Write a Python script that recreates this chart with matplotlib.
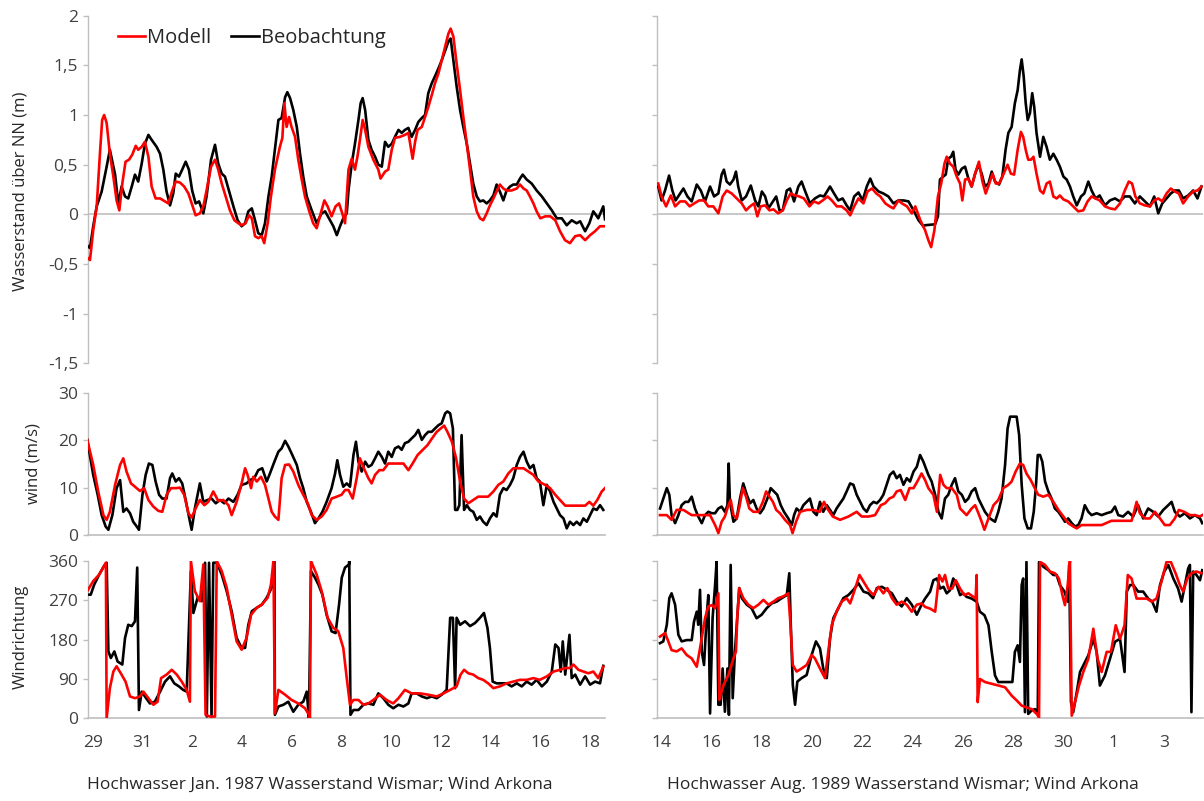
import matplotlib
matplotlib.use("Agg")
import matplotlib.pyplot as plt

plt.rcParams['font.family'] = ['Open Sans', 'DejaVu Sans']

# ---------------- data (x = days since first tick label) ----------------
# Jan 1987, water level (m)
jan_wl_obs_t = [-0.25, -0.12, 0.01, 0.15, 0.35, 0.55, 0.68, 0.89, 1.02, 1.15, 1.29, 1.42, 1.56, 1.69, 1.82, 1.96,
                2.09, 2.23, 2.36, 2.56, 2.70, 2.83, 2.96, 3.10, 3.23, 3.33, 3.46, 3.59, 3.73, 3.86, 3.99, 4.13,
                4.27, 4.44, 4.57, 4.75, 4.91, 5.04, 5.18, 5.31, 5.47, 5.65, 5.82, 5.98, 6.12, 6.25, 6.39, 6.52,
                6.65, 6.79, 6.92, 7.06, 7.19, 7.32, 7.46, 7.59, 7.73, 7.82, 7.93, 8.06, 8.20, 8.33, 8.46, 8.60,
                8.80, 9.00, 9.20, 9.34, 9.54, 9.67, 9.81, 9.94, 10.07, 10.21,
                10.28, 10.41, 10.54, 10.68, 10.77, 10.85, 10.95, 11.08, 11.21, 11.35, 11.48, 11.62, 11.75, 11.88,
                12.02, 12.15, 12.29, 12.42, 12.55, 12.69, 12.82, 12.96, 13.09, 13.23, 13.36, 13.49, 13.63, 13.76,
                13.90, 14.03, 14.17, 14.30, 14.39, 14.50, 14.63, 14.77, 14.90, 15.04, 15.17, 15.30, 15.44, 15.57,
                15.70, 15.84, 15.97, 16.11, 16.24, 16.37, 16.51, 16.64, 16.78, 16.91, 17.05, 17.18, 17.29, 17.45,
                17.65, 17.85, 18.06, 18.26, 18.46, 18.66, 18.86, 19.06, 19.26, 19.46, 19.60, 19.80, 19.97, 20.13,
                20.33, 20.53, 20.60]
jan_wl_obs = [-0.31, -0.34, -0.12, 0.08, 0.23, 0.48, 0.65, 0.40, 0.10, 0.28, 0.18, 0.16, 0.28, 0.40, 0.33, 0.51,
              0.71, 0.80, 0.75, 0.68, 0.61, 0.45, 0.23, 0.09, 0.21, 0.41, 0.38, 0.45, 0.53, 0.45, 0.24, 0.11,
              0.13, 0.01, 0.18, 0.55, 0.70, 0.51, 0.41, 0.38, 0.24, 0.08, -0.06, -0.12, -0.09, 0.03, 0.06, -0.06,
              -0.19, -0.21, -0.09, 0.18, 0.38, 0.65, 0.95, 0.97, 1.18, 1.23, 1.17, 1.05, 0.88, 0.61, 0.38, 0.18,
              0.04, -0.09, 0.01, 0.03, -0.06, -0.12, -0.21, -0.12, -0.04, 0.01,
              0.24, 0.51, 0.71, 0.95, 1.12, 1.17, 1.05, 0.75, 0.65, 0.58, 0.50, 0.48, 0.73, 0.68,
              0.71, 0.78, 0.85, 0.82, 0.85, 0.87, 0.78, 0.85, 0.93, 0.97, 1.00, 1.22, 1.32, 1.39,
              1.47, 1.55, 1.65, 1.74, 1.77, 1.55, 1.29, 1.05, 0.88, 0.71, 0.51, 0.31, 0.18, 0.13,
              0.14, 0.11, 0.14, 0.19, 0.30, 0.23, 0.14, 0.24, 0.28, 0.30, 0.30, 0.36, 0.40, 0.35,
              0.31, 0.24, 0.18, 0.11, 0.04, -0.04, -0.04, -0.11, -0.06, -0.09, -0.07, -0.17, -0.09, 0.03,
              -0.04, 0.08, -0.05]
jan_wl_mod_t = [-0.25, -0.12, 0.01, 0.15, 0.28, 0.37, 0.45, 0.55, 0.68, 0.82, 0.95, 1.06, 1.18, 1.31, 1.45, 1.58,
                1.72, 1.82, 1.96, 2.09, 2.23, 2.36, 2.52, 2.70, 2.90, 3.03, 3.19, 3.33, 3.50, 3.67, 3.84, 3.97,
                4.13, 4.30, 4.44, 4.57, 4.75, 4.91, 5.04, 5.18, 5.34, 5.51, 5.69, 5.85, 5.98, 6.14, 6.28, 6.39,
                6.52, 6.65, 6.79, 6.89, 7.03, 7.16, 7.32, 7.52, 7.62, 7.70, 7.79, 7.89, 7.99, 8.13, 8.26, 8.40,
                8.53, 8.69, 8.86, 9.00, 9.13, 9.31, 9.44, 9.60, 9.76, 9.90, 10.03, 10.14,
                10.28, 10.41, 10.54, 10.64, 10.74, 10.85, 10.95, 11.08, 11.28, 11.48, 11.57, 11.75, 11.88, 12.02,
                12.15, 12.35, 12.55, 12.69, 12.78, 12.86, 12.96, 13.06, 13.23, 13.36, 13.49, 13.63, 13.76, 13.90,
                14.03, 14.17, 14.30, 14.39, 14.50, 14.63, 14.77, 14.90, 15.04, 15.17, 15.30, 15.44, 15.57, 15.70,
                15.84, 15.97, 16.11, 16.24, 16.37, 16.51, 16.64, 16.84, 17.05, 17.18, 17.32, 17.45, 17.58, 17.72,
                17.85, 18.00, 18.20, 18.40, 18.60, 18.79, 18.99, 19.19, 19.40, 19.60, 19.80, 20.00, 20.20, 20.40,
                20.60]
jan_wl_mod = [-0.43, -0.46, -0.16, 0.08, 0.61, 0.95, 1.00, 0.92, 0.61, 0.38, 0.14, 0.04, 0.31, 0.53, 0.55, 0.60,
              0.69, 0.65, 0.68, 0.73, 0.58, 0.28, 0.16, 0.16, 0.13, 0.11, 0.24, 0.33, 0.32, 0.28, 0.21, 0.11,
              -0.01, 0.01, 0.08, 0.24, 0.48, 0.55, 0.45, 0.31, 0.18, 0.04, -0.06, -0.09, -0.11, -0.09, -0.01, -0.04,
              -0.22, -0.24, -0.22, -0.29, -0.09, 0.18, 0.45, 0.68, 0.77, 1.12, 0.88, 0.98, 0.88, 0.78, 0.55, 0.35,
              0.18, 0.04, -0.09, -0.14, -0.02, 0.14, 0.08, -0.02, 0.08, 0.11, 0.01, -0.09,
              0.45, 0.56, 0.45, 0.58, 0.75, 0.95, 0.85, 0.68, 0.55, 0.45, 0.36, 0.43, 0.45, 0.65,
              0.77, 0.78, 0.80, 0.82, 0.68, 0.56, 0.73, 0.85, 0.88, 0.98, 1.08, 1.20, 1.32, 1.42,
              1.55, 1.69, 1.82, 1.87, 1.79, 1.52, 1.25, 0.98, 0.71, 0.45, 0.18, 0.03, -0.04, -0.06,
              0.01, 0.09, 0.16, 0.23, 0.30, 0.26, 0.24, 0.24, 0.26, 0.30, 0.26, 0.24, 0.18, 0.11,
              0.03, -0.04, -0.02, -0.02, -0.06, -0.17, -0.26, -0.29, -0.22, -0.21, -0.26, -0.21, -0.17, -0.12,
              -0.12]

# Aug 1989, water level (m)
aug_wl_obs_t = [-0.11, 0.02, 0.16, 0.32, 0.45, 0.58, 0.76, 0.89, 1.05, 1.22, 1.42, 1.58, 1.75, 1.95, 2.11, 2.28,
                2.41, 2.50, 2.61, 2.74, 2.88, 2.98, 3.07, 3.21, 3.38, 3.57, 3.74, 3.87, 4.01, 4.14, 4.27, 4.40,
                4.58, 4.71, 4.84, 5.00, 5.13, 5.29, 5.46, 5.59, 5.72, 5.92, 6.12, 6.32, 6.48, 6.72, 6.88, 7.05,
                7.22, 7.38, 7.52, 7.68, 7.85, 8.02, 8.18, 8.32, 8.45, 8.65, 8.84, 9.04, 9.24, 9.44, 9.64, 9.84,
                10.04, 10.24, 10.43,
                10.50, 10.90, 11.01, 11.09, 11.22, 11.32, 11.42, 11.53, 11.62, 11.71, 11.82, 11.96, 12.09, 12.22,
                12.35, 12.49, 12.62, 12.75, 12.88, 13.02, 13.15, 13.28, 13.44, 13.57, 13.70, 13.81, 13.94, 14.07,
                14.18, 14.27, 14.34, 14.42, 14.50, 14.58, 14.67, 14.76, 14.84, 14.93, 15.07, 15.20, 15.33, 15.46,
                15.60, 15.73, 15.86, 16.00, 16.13, 16.26, 16.39, 16.53, 16.70, 16.83, 16.99, 17.12, 17.28, 17.44,
                17.65, 17.85, 18.05, 18.25, 18.44, 18.64, 18.84, 19.04, 19.24, 19.44, 19.61, 19.77, 19.93, 20.10,
                20.27, 20.43, 20.59, 20.76, 20.96, 21.16, 21.33, 21.49]
aug_wl_obs = [0.28, 0.14, 0.24, 0.39, 0.24, 0.14, 0.21, 0.26, 0.18, 0.13, 0.30, 0.24, 0.13, 0.28, 0.18, 0.21,
              0.40, 0.45, 0.33, 0.30, 0.35, 0.43, 0.28, 0.14, 0.18, 0.29, 0.14, 0.08, 0.23, 0.18, 0.06, 0.11,
              0.18, 0.04, 0.04, 0.24, 0.26, 0.13, 0.28, 0.33, 0.24, 0.11, 0.16, 0.19, 0.18, 0.28, 0.21, 0.14,
              0.16, 0.09, 0.04, 0.18, 0.22, 0.14, 0.28, 0.36, 0.28, 0.23, 0.21, 0.18, 0.11, 0.14, 0.14, 0.13,
              0.04, -0.06, -0.12,
              -0.11, -0.10, -0.02, 0.35, 0.38, 0.40, 0.56, 0.58, 0.63, 0.45, 0.40, 0.46, 0.48, 0.36,
              0.28, 0.41, 0.50, 0.41, 0.28, 0.31, 0.43, 0.33, 0.30, 0.38, 0.65, 0.82, 0.88, 1.12,
              1.25, 1.45, 1.56, 1.39, 1.12, 0.95, 1.02, 1.22, 1.08, 0.82, 0.58, 0.78, 0.68, 0.55,
              0.61, 0.55, 0.48, 0.38, 0.35, 0.28, 0.18, 0.09, 0.18, 0.21, 0.33, 0.24, 0.16, 0.19,
              0.09, 0.14, 0.16, 0.13, 0.18, 0.18, 0.11, 0.18, 0.13, 0.08, 0.18, 0.01, 0.11, 0.16,
              0.21, 0.24, 0.24, 0.16, 0.19, 0.24, 0.16, 0.28]
aug_wl_mod_t = [-0.11, 0.02, 0.20, 0.39, 0.56, 0.76, 0.96, 1.14, 1.32, 1.52, 1.71, 1.88, 2.08, 2.28, 2.45, 2.61,
                2.81, 3.01, 3.21, 3.38, 3.54, 3.70, 3.83, 3.96, 4.14, 4.31, 4.47, 4.66, 4.84, 5.00, 5.15, 5.33,
                5.50, 5.68, 5.90, 6.08, 6.26, 6.43, 6.62, 6.79, 6.99, 7.18, 7.38, 7.52, 7.68, 7.85, 8.05, 8.21,
                8.39, 8.56, 8.72, 8.92, 9.09, 9.24, 9.44, 9.58, 9.78, 9.97, 10.11, 10.31,
                10.50, 10.63, 10.74, 10.87, 11.01, 11.14, 11.27, 11.36, 11.49, 11.62, 11.76, 11.89, 11.98, 12.09,
                12.22, 12.35, 12.49, 12.64, 12.78, 12.91, 13.04, 13.18, 13.31, 13.44, 13.61, 13.78, 13.91, 14.04,
                14.18, 14.31, 14.40, 14.50, 14.60, 14.71, 14.81, 14.93, 15.07, 15.20, 15.33, 15.46, 15.60, 15.73,
                15.86, 16.00, 16.19, 16.39, 16.59, 16.79, 16.96, 17.12, 17.28, 17.44, 17.65, 17.85, 18.05, 18.25,
                18.44, 18.60, 18.73, 18.86, 19.04, 19.24, 19.44, 19.61, 19.77, 19.93, 20.10, 20.27, 20.43, 20.59,
                20.76, 20.96, 21.16, 21.33, 21.49]
aug_wl_mod = [0.31, 0.18, 0.08, 0.19, 0.08, 0.13, 0.13, 0.08, 0.11, 0.14, 0.14, 0.08, 0.08, 0.01, 0.18, 0.24,
              0.21, 0.16, 0.11, 0.04, 0.08, 0.11, -0.02, 0.08, 0.09, 0.04, 0.05, 0.01, 0.04, 0.14, 0.21, 0.19,
              0.18, 0.16, 0.08, 0.13, 0.11, 0.14, 0.18, 0.14, 0.08, 0.08, 0.04, -0.01, 0.08, 0.16, 0.11, 0.23,
              0.26, 0.21, 0.18, 0.11, 0.08, 0.06, 0.14, 0.11, 0.08, 0.01, 0.08, -0.06,
              -0.16, -0.26, -0.33, -0.16, 0.18, 0.31, 0.51, 0.58, 0.51, 0.48, 0.38, 0.31, 0.14, 0.35,
              0.36, 0.28, 0.41, 0.53, 0.33, 0.21, 0.30, 0.41, 0.31, 0.31, 0.40, 0.50, 0.41, 0.40,
              0.65, 0.83, 0.78, 0.65, 0.55, 0.55, 0.58, 0.41, 0.24, 0.21, 0.31, 0.33, 0.18, 0.16,
              0.19, 0.15, 0.13, 0.08, 0.03, 0.04, 0.13, 0.18, 0.16, 0.14, 0.08, 0.06, 0.05, 0.11,
              0.24, 0.33, 0.31, 0.18, 0.11, 0.09, 0.08, 0.14, 0.16, 0.13, 0.21, 0.26, 0.23, 0.21,
              0.11, 0.18, 0.23, 0.24, 0.28]

# Jan 1987, wind speed (m/s)
jan_ws_obs_t = [-0.23, 0.01, 0.19, 0.35, 0.51, 0.62, 0.78, 0.95, 1.09, 1.22, 1.35, 1.49, 1.62, 1.76, 1.85, 1.99,
                2.12, 2.25, 2.39, 2.52, 2.66, 2.79, 2.96, 3.10, 3.19, 3.33, 3.46, 3.59, 3.73, 3.86, 3.97, 4.10,
                4.30, 4.44, 4.61, 4.77, 4.94, 5.11, 5.28, 5.45, 5.65, 5.82, 5.98, 6.18, 6.32, 6.49, 6.65, 6.81,
                6.99, 7.12, 7.30, 7.46, 7.59, 7.73, 7.86, 8.02, 8.20, 8.33, 8.46, 8.60, 8.77, 8.93, 9.07, 9.23,
                9.40, 9.60, 9.74, 9.83, 9.94, 10.07, 10.21, 10.34,
                10.48, 10.58, 10.68, 10.81, 10.95, 11.08, 11.21, 11.35, 11.48, 11.62, 11.75, 11.88, 12.02, 12.15,
                12.29, 12.42, 12.55, 12.69, 12.82, 12.96, 13.09, 13.23, 13.36, 13.49, 13.63, 13.76, 13.90, 14.03,
                14.17, 14.26, 14.37, 14.48, 14.57, 14.66, 14.74, 14.83, 14.93, 15.04, 15.17, 15.30, 15.44, 15.57,
                15.70, 15.84, 15.97, 16.11, 16.24, 16.37, 16.51, 16.64, 16.78, 16.91, 17.05, 17.18, 17.32, 17.45,
                17.58, 17.72, 17.85, 17.98, 18.12, 18.26, 18.39, 18.53, 18.66, 18.79, 18.93, 19.06, 19.19, 19.33,
                19.46, 19.60, 19.73, 19.87, 20.00, 20.13, 20.27, 20.40, 20.53]
jan_ws_obs = [20.1, 12.7, 8.5, 4.2, 1.8, 1.1, 4.2, 9.9, 11.6, 4.9, 5.6, 4.6, 2.8, 1.8, 1.1, 8.5,
              12.7, 15.1, 14.8, 11.3, 8.5, 7.7, 7.7, 12.0, 13.0, 11.3, 12.0, 10.9, 7.4, 3.9, 1.1, 5.6,
              10.9, 7.0, 7.4, 7.7, 6.7, 7.4, 6.7, 7.7, 7.0, 8.5, 10.6, 10.9, 11.6, 12.0, 13.7, 14.1,
              11.3, 13.0, 15.5, 17.6, 18.3, 19.9, 18.7, 16.9, 14.8, 12.0, 9.9, 7.0, 4.9, 2.5, 3.5, 4.9,
              7.0, 9.9, 13.0, 15.8, 12.7, 10.2, 10.9, 10.2,
              16.9, 19.7, 15.5, 13.4, 15.5, 14.4, 14.8, 16.2, 17.6, 16.5, 15.1, 17.6, 16.5, 18.3,
              18.7, 18.0, 19.4, 19.7, 20.4, 21.1, 22.2, 20.1, 21.1, 21.8, 21.8, 22.5, 23.2, 23.6,
              25.7, 26.1, 25.7, 22.5, 5.3, 5.3, 6.3, 21.1, 5.3, 6.3, 5.3, 4.9, 3.2, 3.9,
              2.8, 2.1, 3.5, 4.6, 3.9, 8.5, 9.9, 9.5, 10.6, 12.0, 14.8, 16.5, 17.6, 15.5,
              14.1, 14.8, 12.0, 11.3, 6.3, 10.6, 9.2, 7.0, 5.6, 4.2, 3.5, 1.4, 2.8, 2.1,
              2.8, 2.1, 3.5, 2.8, 4.2, 5.6, 5.3, 6.3, 5.3]
jan_ws_mod_t = [-0.23, 0.01, 0.21, 0.42, 0.55, 0.68, 0.89, 1.09, 1.22, 1.35, 1.53, 1.69, 1.89, 2.06, 2.23, 2.43,
                2.63, 2.79, 2.96, 3.14, 3.33, 3.50, 3.67, 3.84, 3.97, 4.13, 4.30, 4.48, 4.64, 4.84, 5.04, 5.24,
                5.45, 5.58, 5.78, 5.98, 6.12, 6.22, 6.36, 6.45, 6.59, 6.76, 6.92, 7.06, 7.19, 7.32, 7.46, 7.59,
                7.73, 7.89, 8.06, 8.26, 8.46, 8.64, 8.80, 9.00, 9.20, 9.40, 9.60, 9.81, 10.00, 10.14,
                10.28, 10.45, 10.61, 10.74, 10.90, 11.08, 11.21, 11.35, 11.52, 11.68, 11.88, 12.08, 12.29, 12.49,
                12.69, 12.86, 13.06, 13.27, 13.46, 13.64, 13.83, 13.99, 14.13, 14.26, 14.44, 14.61, 14.77, 14.93,
                15.10, 15.30, 15.50, 15.70, 15.90, 16.11, 16.31, 16.51, 16.71, 16.91, 17.11, 17.32, 17.52, 17.72,
                17.92, 18.19, 18.39, 18.60, 18.79, 19.00, 19.19, 19.40, 19.60, 19.80, 19.97, 20.13, 20.29, 20.47,
                20.60]
jan_ws_mod = [20.1, 14.8, 9.2, 4.2, 3.2, 4.9, 10.6, 14.8, 16.2, 13.4, 10.9, 10.2, 9.3, 9.9, 7.4, 6.0,
              5.1, 4.9, 8.5, 9.9, 9.9, 10.0, 8.5, 4.6, 3.7, 5.6, 7.4, 6.3, 7.0, 9.2, 7.2, 7.4,
              6.3, 4.2, 7.0, 10.9, 14.1, 12.7, 9.9, 12.3, 11.3, 12.3, 10.6, 7.7, 4.9, 3.9, 3.2, 12.0,
              14.8, 14.9, 13.4, 10.6, 8.5, 6.7, 4.2, 3.2, 3.9, 5.3, 7.7, 8.1, 8.5, 9.5,
              9.5, 7.7, 12.0, 16.2, 14.1, 12.0, 10.9, 12.7, 13.7, 13.7, 15.1, 15.1, 15.1, 15.1,
              13.7, 15.1, 16.9, 18.0, 19.0, 20.4, 21.8, 22.5, 23.1, 21.8, 19.7, 16.2, 11.3, 7.7,
              6.7, 7.4, 8.1, 8.1, 8.1, 9.2, 10.6, 11.3, 13.0, 14.1, 14.1, 14.1, 13.4, 12.7,
              11.3, 10.6, 9.9, 8.5, 7.4, 6.2, 6.2, 6.2, 6.2, 6.2, 7.0, 6.2, 7.4, 9.2,
              9.9]

# Aug 1989, wind speed (m/s)
aug_ws_obs_t = [-0.04, 0.09, 0.23, 0.33, 0.42, 0.56, 0.69, 0.82, 0.96, 1.09, 1.22, 1.35, 1.48, 1.62, 1.75, 1.88,
                2.02, 2.15, 2.28, 2.41, 2.54, 2.64, 2.69, 2.74, 2.88, 3.01, 3.14, 3.27, 3.41, 3.54, 3.67, 3.80,
                3.94, 4.07, 4.23, 4.36, 4.49, 4.62, 4.76, 4.89, 5.06, 5.20, 5.29, 5.39, 5.53, 5.66, 5.79, 5.92,
                6.06, 6.19, 6.32, 6.45, 6.59, 6.72, 6.85, 6.98, 7.12, 7.25, 7.38, 7.52, 7.65, 7.78, 7.92, 8.05,
                8.18, 8.31, 8.45, 8.58, 8.71, 8.84, 8.97, 9.10, 9.24, 9.37, 9.50, 9.64, 9.77, 9.90, 10.04, 10.17,
                10.30, 10.43,
                10.63, 10.76, 10.90, 11.03, 11.16, 11.29, 11.42, 11.56, 11.69, 11.82, 11.96, 12.09, 12.22, 12.35,
                12.49, 12.62, 12.75, 12.88, 13.08, 13.28, 13.41, 13.54, 13.68, 13.78, 13.88, 14.01, 14.14, 14.24,
                14.34, 14.45, 14.58, 14.71, 14.82, 14.91, 14.98, 15.07, 15.16, 15.27, 15.40, 15.53, 15.66, 15.80,
                15.93, 16.06, 16.19, 16.33, 16.46, 16.59, 16.72, 16.85, 16.99, 17.12, 17.32, 17.52, 17.72, 17.91,
                18.05, 18.18, 18.37, 18.57, 18.77, 18.97, 19.17, 19.37, 19.57, 19.77, 19.97, 20.17, 20.30, 20.43,
                20.63, 20.83, 21.03, 21.23, 21.43, 21.52]
aug_ws_obs = [5.6, 7.7, 9.9, 8.5, 4.2, 2.5, 4.2, 6.3, 7.0, 7.0, 8.1, 5.6, 3.9, 2.5, 4.2, 4.9,
              4.6, 4.6, 5.6, 6.0, 4.9, 6.3, 15.1, 7.0, 2.8, 3.5, 7.7, 10.9, 8.5, 6.7, 7.4, 5.6,
              4.6, 5.6, 7.7, 9.9, 9.2, 8.5, 6.3, 4.9, 3.5, 2.1, 4.2, 5.6, 4.9, 6.3, 7.0, 7.7,
              4.9, 4.2, 7.0, 4.9, 6.3, 5.3, 4.2, 5.6, 6.7, 7.7, 9.2, 10.9, 10.6, 8.5, 7.0, 5.6,
              4.9, 6.3, 7.0, 6.7, 7.4, 8.5, 10.6, 12.7, 13.4, 12.0, 12.7, 10.6, 12.0, 11.3, 13.4, 14.4,
              16.9, 15.5,
              12.7, 11.3, 8.5, 4.9, 3.5, 7.7, 8.5, 10.6, 12.0, 9.2, 8.5, 7.0, 7.7, 9.2,
              9.9, 7.7, 6.3, 4.9, 3.5, 2.8, 4.9, 7.7, 14.8, 22.5, 25.0, 25.0, 25.0, 21.1,
              10.6, 3.5, 1.4, 1.4, 4.9, 10.6, 16.9, 16.9, 15.5, 11.3, 9.2, 7.7, 5.6, 4.9,
              3.9, 2.8, 3.5, 2.5, 1.8, 2.1, 3.5, 6.3, 4.9, 4.2, 4.6, 4.2, 4.6, 4.9,
              6.0, 4.2, 3.9, 4.9, 3.9, 6.3, 3.5, 5.6, 4.9, 3.9, 5.3, 6.3, 7.0, 4.9,
              3.9, 4.6, 3.5, 4.2, 3.5, 2.5]
aug_ws_mod_t = [-0.04, 0.23, 0.42, 0.62, 0.89, 1.22, 1.55, 1.95, 2.15, 2.28, 2.41, 2.54, 2.68, 2.77, 2.88, 3.01,
                3.12, 3.25, 3.38, 3.51, 3.67, 3.87, 4.05, 4.18, 4.31, 4.45, 4.58, 4.73, 4.93, 5.13, 5.23, 5.37,
                5.53, 5.79, 6.06, 6.32, 6.48, 6.61, 6.83, 7.12, 7.45, 7.78, 7.98, 8.25, 8.51, 8.74, 8.91, 9.08,
                9.24, 9.37, 9.53, 9.71, 9.88, 10.04, 10.19, 10.36, 10.50,
                10.63, 10.83, 10.97, 11.10, 11.23, 11.36, 11.56, 11.76, 11.89, 12.02, 12.15, 12.35, 12.49, 12.62,
                12.75, 12.86, 13.02, 13.22, 13.41, 13.61, 13.81, 13.94, 14.10, 14.27, 14.40, 14.53, 14.70, 14.86,
                15.00, 15.20, 15.40, 15.60, 15.80, 16.00, 16.19, 16.39, 16.53, 16.72, 16.99, 17.25, 17.52, 17.91,
                18.37, 18.71, 18.81, 18.91, 19.04, 19.24, 19.44, 19.64, 19.84, 20.03, 20.23, 20.43, 20.59, 20.80,
                21.03, 21.23, 21.43, 21.52]
aug_ws_mod = [4.2, 4.2, 3.2, 5.3, 5.3, 4.2, 4.2, 4.2, 2.1, 0.4, 2.8, 3.9, 6.3, 7.4, 4.2, 3.5,
              6.0, 9.9, 8.1, 5.6, 4.9, 4.9, 7.0, 9.2, 8.1, 7.0, 5.3, 4.6, 3.2, 2.1, 0.4, 2.8,
              4.9, 5.3, 5.3, 4.9, 7.0, 5.6, 3.9, 3.2, 3.9, 4.9, 3.9, 3.9, 4.2, 6.3, 6.7, 7.7,
              8.1, 9.2, 9.5, 7.4, 9.9, 9.9, 11.3, 13.0, 11.6,
              9.9, 8.5, 4.9, 12.7, 10.6, 9.9, 9.9, 8.5, 5.6, 4.9, 4.2, 5.6, 6.3, 4.6,
              2.8, 1.1, 3.5, 6.3, 7.4, 9.9, 10.6, 11.3, 13.4, 15.1, 14.8, 13.0, 11.6, 9.9,
              8.5, 8.1, 8.5, 7.0, 5.3, 3.9, 2.5, 1.8, 1.4, 2.1, 2.1, 2.1, 2.1, 3.0,
              3.0, 3.0, 4.9, 7.0, 4.6, 3.5, 3.5, 4.9, 3.5, 2.1, 2.1, 3.5, 5.3, 4.9,
              4.2, 4.2, 3.9, 4.2]

# Jan 1987, wind direction (deg)
jan_wd_obs_t = [-0.23, -0.09, 0.05, 0.25, 0.45, 0.55, 0.62, 0.72, 0.86, 0.99, 1.18, 1.29, 1.42, 1.56, 1.69, 1.78,
                1.85, 1.96, 2.09, 2.29, 2.49, 2.70, 2.90, 3.10, 3.27, 3.46, 3.63, 3.77, 3.94, 4.04, 4.21, 4.37,
                4.51, 4.58, 4.67, 4.77, 4.84, 4.98, 5.18, 5.38, 5.58, 5.78, 5.98, 6.12, 6.25, 6.39, 6.59, 6.79,
                6.99, 7.19, 7.30, 7.32, 7.46, 7.66, 7.86, 8.06, 8.26, 8.46, 8.60, 8.69, 8.77, 8.93, 9.07, 9.23,
                9.40, 9.60, 9.76, 9.90, 10.01, 10.14, 10.30,
                10.31, 10.36, 10.48, 10.68, 10.88, 11.08, 11.28, 11.48, 11.68, 11.88, 12.08, 12.29, 12.49, 12.69,
                12.82, 13.02, 13.23, 13.43, 13.63, 13.83, 14.03, 14.23, 14.37, 14.48, 14.57, 14.63, 14.77, 14.97,
                15.17, 15.37, 15.57, 15.73, 15.87, 15.97, 16.08, 16.24, 16.44, 16.64, 16.84, 17.05, 17.25, 17.45,
                17.65, 17.85, 18.06, 18.26, 18.46, 18.60, 18.73, 18.82, 18.90, 19.00, 19.17, 19.26, 19.40, 19.60,
                19.80, 20.00, 20.20, 20.40, 20.53]
jan_wd_obs = [283, 283, 306, 329, 349, 356, 153, 138, 153, 130, 123, 184, 214, 211, 222, 345,
              19, 61, 50, 34, 38, 61, 84, 96, 80, 73, 65, 61, 337, 241, 276, 268,
              356, 4, 356, 4, 356, 356, 329, 291, 245, 184, 161, 161, 214, 245, 253, 260,
              276, 299, 360, 8, 27, 31, 38, 15, 31, 38, 61, 0, 337, 322, 306, 283,
              237, 199, 195, 260, 322, 345, 352,
              360, 8, 19, 19, 31, 34, 31, 57, 46, 31, 23, 31, 27, 34,
              57, 57, 50, 46, 50, 46, 54, 65, 230, 230, 69, 230, 214, 222,
              211, 218, 230, 241, 207, 161, 84, 80, 80, 80, 73, 80, 73, 84,
              77, 88, 73, 84, 107, 169, 161, 107, 176, 100, 191, 92, 100, 77,
              96, 77, 84, 80, 120]
jan_wd_mod_t = [-0.23, 0.01, 0.25, 0.45, 0.52, 0.55, 0.68, 0.82, 0.95, 1.15, 1.31, 1.49, 1.69, 1.89, 2.03, 2.23,
                2.43, 2.60, 2.74, 2.96, 3.17, 3.37, 3.57, 3.77, 3.90, 3.94, 4.10, 4.30, 4.44, 4.53, 4.71, 4.91,
                4.98, 5.18, 5.38, 5.58, 5.78, 5.98, 6.18, 6.36, 6.59, 6.79, 7.03, 7.16, 7.26, 7.32, 7.46, 7.73,
                7.99, 8.26, 8.53, 8.69, 8.73, 8.77, 9.00, 9.20, 9.44, 9.67, 9.87, 10.07, 10.21,
                10.34, 10.48, 10.68, 10.88, 11.08, 11.28, 11.55, 11.81, 12.08, 12.29, 12.55, 12.82, 13.16, 13.49,
                13.83, 14.10, 14.37, 14.63, 14.79, 14.93, 15.10, 15.30, 15.50, 15.70, 15.90, 16.11, 16.37, 16.64,
                16.91, 17.18, 17.45, 17.72, 17.98, 18.26, 18.53, 18.79, 19.00, 19.19, 19.33, 19.53, 19.73, 19.93,
                20.13, 20.33, 20.53]
jan_wd_mod = [291, 314, 329, 349, 356, 0, 69, 107, 119, 100, 84, 50, 46, 50, 61, 46,
              31, 38, 92, 100, 111, 100, 84, 65, 38, 360, 291, 268, 352, 8, 4, 4,
              360, 337, 299, 237, 176, 157, 184, 237, 253, 260, 276, 306, 360, 11, 65, 54,
              42, 34, 23, 8, 0, 360, 329, 291, 230, 207, 199, 161, 92,
              31, 42, 42, 31, 34, 42, 54, 42, 34, 46, 65, 57, 57, 54,
              50, 57, 65, 73, 100, 111, 103, 100, 92, 88, 80, 69, 73, 80,
              84, 88, 88, 92, 88, 96, 107, 111, 115, 115, 123, 111, 107, 103,
              107, 92, 118]

# Aug 1989, wind direction (deg)
aug_wd_obs_t = [-0.04, 0.09, 0.23, 0.33, 0.42, 0.56, 0.69, 0.82, 1.02, 1.22, 1.31, 1.42, 1.48, 1.55, 1.62, 1.71,
                1.82, 1.88, 1.95, 2.05, 2.15, 2.21, 2.28, 2.37, 2.45, 2.54, 2.64, 2.70, 2.77, 2.85, 2.94, 3.03,
                3.11, 3.21, 3.41, 3.60, 3.80, 4.00, 4.20, 4.40, 4.60, 4.80, 5.00, 5.10, 5.16, 5.24, 5.33, 5.42,
                5.59, 5.79, 5.99, 6.16, 6.32, 6.45, 6.59, 6.72, 6.85, 6.98, 7.12, 7.25, 7.45, 7.65, 7.85, 8.05,
                8.25, 8.43, 8.58, 8.78, 8.98, 9.18, 9.37, 9.57, 9.77, 9.97, 10.17, 10.36,
                10.50, 10.70, 10.83, 10.97, 11.10, 11.23, 11.36, 11.49, 11.62, 11.76, 11.89, 12.02, 12.15, 12.35,
                12.55, 12.68, 12.86, 13.02, 13.15, 13.28, 13.41, 13.68, 13.97, 14.07, 14.18, 14.27, 14.34, 14.40,
                14.47, 14.53, 14.60, 14.74, 14.87, 14.98, 15.03, 15.20, 15.40, 15.60, 15.73, 15.86, 16.04, 16.17,
                16.23, 16.30, 16.39, 16.53, 16.66, 16.79, 16.99, 17.19, 17.32, 17.45, 17.65, 17.85, 18.05, 18.25,
                18.43, 18.52, 18.65, 18.78, 18.97, 19.17, 19.37, 19.53, 19.70, 19.84, 20.01, 20.17, 20.37, 20.56,
                20.70, 20.86, 20.96, 21.03, 21.09, 21.16, 21.29, 21.43, 21.52]
aug_wd_obs = [172, 176, 214, 275, 286, 260, 191, 176, 179, 179, 221, 244, 214, 294, 153, 122,
              237, 282, 11, 229, 305, 359, 31, 31, 114, 15, 114, 8, 351, 46, 153, 229,
              298, 275, 260, 252, 229, 237, 252, 263, 267, 275, 282, 332, 214, 76, 31, 84,
              92, 99, 145, 176, 160, 114, 92, 183, 229, 244, 260, 275, 282, 294, 309, 290,
              286, 275, 298, 301, 294, 286, 267, 256, 275, 260, 237, 260,
              274, 290, 316, 320, 297, 301, 286, 293, 320, 305, 282, 286, 278, 274,
              267, 244, 236, 213, 152, 98, 83, 83, 83, 152, 167, 129, 305, 320,
              14, 358, 10, 18, 21, 14, 358, 347, 339, 328, 328, 305, 290, 267,
              351, 37, 14, 60, 106, 121, 144, 182, 152, 75, 98, 136, 175, 182,
              106, 290, 305, 305, 290, 290, 274, 267, 244, 305, 336, 351, 320, 297,
              267, 313, 343, 351, 14, 336, 328, 316, 339]
aug_wd_mod_t = [-0.04, 0.16, 0.29, 0.42, 0.62, 0.82, 1.02, 1.22, 1.42, 1.55, 1.75, 1.88, 2.02, 2.15, 2.28, 2.32,
                2.48, 2.68, 2.88, 2.98, 3.03, 3.11, 3.27, 3.47, 3.67, 3.87, 4.07, 4.27, 4.47, 4.66, 4.86, 5.06,
                5.13, 5.24, 5.39, 5.59, 5.79, 5.99, 6.12, 6.32, 6.52, 6.65, 6.79, 6.98, 7.18, 7.38, 7.52, 7.68,
                7.89, 8.05, 8.25, 8.45, 8.65, 8.84, 9.00, 9.18, 9.37, 9.57, 9.77, 9.97, 10.17, 10.36,
                10.50, 10.70, 10.90, 11.06, 11.19, 11.29, 11.42, 11.58, 11.72, 11.89, 12.06, 12.22, 12.42, 12.51,
                12.55, 12.59, 12.68, 12.88, 13.15, 13.41, 13.68, 13.94, 14.14, 14.34, 14.53, 14.74, 14.94, 15.03,
                15.07, 15.27, 15.46, 15.66, 15.82, 15.96, 16.06, 16.17, 16.26, 16.33, 16.46, 16.62, 16.79, 16.99,
                17.19, 17.36, 17.52, 17.72, 17.89, 18.08, 18.25, 18.43, 18.56, 18.71, 18.91, 19.11, 19.31, 19.51,
                19.70, 19.90, 20.10, 20.27, 20.46, 20.63, 20.76, 20.93, 21.09, 21.29, 21.49]
aug_wd_mod = [187, 195, 176, 156, 153, 160, 145, 137, 118, 160, 229, 256, 259, 252, 286, 42,
              76, 99, 137, 153, 229, 298, 275, 260, 252, 260, 271, 260, 267, 275, 279, 286,
              229, 122, 107, 114, 122, 145, 137, 114, 92, 153, 214, 244, 267, 275, 263, 290,
              328, 313, 294, 282, 301, 286, 298, 275, 260, 267, 260, 244, 260, 263,
              255, 251, 244, 328, 313, 328, 297, 297, 316, 297, 282, 286, 278, 274,
              328, 37, 90, 83, 79, 75, 71, 52, 41, 29, 25, 21, 10, 2,
              358, 351, 336, 332, 320, 282, 259, 305, 360, 6, 37, 75, 106, 136,
              205, 136, 106, 152, 152, 213, 182, 213, 328, 320, 274, 274, 274, 267,
              274, 313, 358, 358, 332, 305, 290, 320, 332, 336, 332]

# axes text
jan_ticks = [0, 2, 4, 6, 8, 10, 12, 14, 16, 18, 20]
jan_labels = ['29', '31', '2', '4', '6', '8', '10', '12', '14', '16', '18']
aug_ticks = [0, 2, 4, 6, 8, 10, 12, 14, 16, 18, 20]
aug_labels = ['14', '16', '18', '20', '22', '24', '26', '28', '30', '1', '3']
wl_ticks = [-1.5, -1, -0.5, 0, 0.5, 1, 1.5, 2]
wl_labels = ['-1,5', '-1', '-0,5', '0', '0,5', '1', '1,5', '2']
ws_ticks = [0, 10, 20, 30]
wd_ticks = [0, 90, 180, 270, 360]

RED = '#ff0000'
GRAY = '#bfbfbf'
TXT = '#404040'
W, H = 1204, 801

fig = plt.figure(figsize=(W / 100, H / 100), dpi=100)


def add_ax(x0, x1, y0, y1):
    return fig.add_axes([x0 / W, 1 - y1 / H, (x1 - x0) / W, (y1 - y0) / H])


cols = [(88, 605, (-0.2, 20.6)), (657, 1203, (-0.16, 21.55))]
rows = [(15.7, 363.3), (393, 535), (561, 718.3)]

axes = [[add_ax(c[0], c[1], r[0], r[1]) for c in cols] for r in rows]

series = [
    [(jan_wl_mod_t, jan_wl_mod, jan_wl_obs_t, jan_wl_obs), (aug_wl_mod_t, aug_wl_mod, aug_wl_obs_t, aug_wl_obs)],
    [(jan_ws_mod_t, jan_ws_mod, jan_ws_obs_t, jan_ws_obs), (aug_ws_mod_t, aug_ws_mod, aug_ws_obs_t, aug_ws_obs)],
    [(jan_wd_mod_t, jan_wd_mod, jan_wd_obs_t, jan_wd_obs), (aug_wd_mod_t, aug_wd_mod, aug_wd_obs_t, aug_wd_obs)],
]
ylims = [(-1.5, 2), (0, 30), (0, 360)]
yticks = [wl_ticks, ws_ticks, wd_ticks]
yticklabels = [wl_labels, [str(v) for v in ws_ticks], [str(v) for v in wd_ticks]]

for i in range(3):
    for j in range(2):
        ax = axes[i][j]
        mt, mv, ot, ov = series[i][j]
        lo = ax.plot(ot, ov, color='black', lw=1.9, label='Beobachtung', zorder=3)[0]
        lm = ax.plot(mt, mv, color=RED, lw=1.9, label='Modell', zorder=4)[0]
        ax.set_xlim(cols[j][2])
        ax.set_ylim(ylims[i])
        for s in ['top', 'right']:
            ax.spines[s].set_visible(False)
        ax.spines['left'].set_color(GRAY)
        ax.spines['left'].set_linewidth(1.0)
        if i == 0:
            ax.spines['bottom'].set_visible(False)
            ax.axhline(0, color=GRAY, lw=1.2, zorder=1)
        else:
            ax.spines['bottom'].set_color(GRAY)
            ax.spines['bottom'].set_linewidth(1.2)
        ax.set_yticks(yticks[i])
        ax.tick_params(axis='y', direction='out', length=3.6, width=1.0, color=GRAY,
                       labelcolor=TXT, labelsize=12.5, pad=3.6)
        if j == 1:
            ax.set_yticklabels([])
        else:
            ax.set_yticklabels(yticklabels[i])
        if i == 2:
            ax.set_xticks(jan_ticks if j == 0 else aug_ticks)
            ax.set_xticklabels(jan_labels if j == 0 else aug_labels)
            ax.tick_params(axis='x', length=0, labelcolor=TXT, labelsize=12.5, pad=12)
        else:
            ax.set_xticks([])
        ax.set_facecolor('none')

axes[0][0].legend(handles=[lm, lo], loc='center left', bbox_to_anchor=(118 / W, 1 - 37.7 / H),
                  bbox_transform=fig.transFigure, ncol=2, frameon=False, fontsize=14.5,
                  handlelength=1.35, handletextpad=0.1, columnspacing=1.0, borderpad=0, borderaxespad=0,
                  labelcolor='#262626')

fig.text(21 / W, 1 - 191 / H, 'Wasserstand über NN (m)', rotation=90, ha='center', va='center',
         fontsize=12, color='#262626')
fig.text(34 / W, 1 - 464 / H, 'wind (m/s)', rotation=90, ha='center', va='center',
         fontsize=12, color='#262626')
fig.text(21 / W, 1 - 637 / H, 'Windrichtung', rotation=90, ha='center', va='center',
         fontsize=12, color='#262626')

fig.text(320 / W, 1 - 785 / H, 'Hochwasser Jan. 1987 Wasserstand Wismar; Wind Arkona',
         ha='center', va='center', fontsize=12.5, color='#262626')
fig.text(903 / W, 1 - 785 / H, 'Hochwasser Aug. 1989 Wasserstand Wismar; Wind Arkona',
         ha='center', va='center', fontsize=12.5, color='#262626')

fig.savefig('out.png', dpi=100)
